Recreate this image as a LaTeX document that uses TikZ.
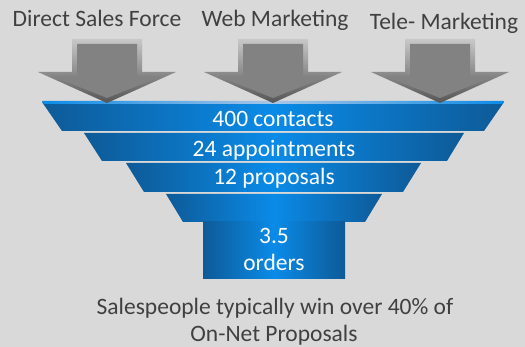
\documentclass[tikz,border=0pt]{standalone}
\usepackage{fontspec}
\setmainfont{Carlito}
\definecolor{bgGray}{HTML}{D9D9D9}
\definecolor{txtGray}{HTML}{404040}
\definecolor{funDark}{HTML}{0E5A97}
\definecolor{funLight}{HTML}{0A8BE8}
\definecolor{funShine}{HTML}{A9C6E6}
\definecolor{arrLight}{HTML}{C8C8C8}
\definecolor{arrDark}{HTML}{555555}
\definecolor{arrFace}{HTML}{828282}
\begin{document}
\begin{tikzpicture}[x=1pt,y=-1pt,
  label/.style={font=\fontsize{23.5}{27}\selectfont,text=txtGray,anchor=base,inner sep=0pt},
  stage/.style={font=\fontsize{23.5}{27}\selectfont,text=white,anchor=base,inner sep=0pt},
  layer/.style={left color=funDark,right color=funDark,middle color=funLight},
  gray arrow/.pic={
    \shade[top color=arrLight,bottom color=arrDark] (-35,0) -- (35,0) -- (35,33) -- (69,33) -- (0,64) -- (-69,33) -- (-35,33) -- cycle;
    \fill[arrFace] (-30,5) -- (30,5) -- (30,37) -- (55,37) -- (0,59) -- (-55,37) -- (-30,37) -- cycle;
  }]
\useasboundingbox (0,0) rectangle (525,347);
\fill[bgGray] (0,0) rectangle (525,347);
\shade[layer] (42,102) -- (504,102) -- (484,131) -- (62,131) -- cycle;
\shade[left color=funLight,right color=funLight,middle color=funShine] (42,101) -- (504,101) -- (502,104) -- (44,104) -- cycle;
\shade[layer] (84,133) -- (464,133) -- (447,161) -- (102,161) -- cycle;
\shade[layer] (126,163) -- (421,163) -- (403,192) -- (144,192) -- cycle;
\shade[layer] (166,194) -- (382,194) -- (365,222) -- (183,222) -- cycle;
\shade[layer] (203,222) rectangle (345,279);
\pic at (107,39) {gray arrow};
\pic at (273,39) {gray arrow};
\pic at (440,39) {gray arrow};
\node[label] (direct) at (97,27) {Direct Sales Force};
\node[label] (web) at (275,27) {Web Marketing};
\node[label] (tele) at (444,30) {Tele- Marketing};
\node[stage] (contacts) at (273,127) {400 contacts};
\node[stage] (appoint) at (274,157) {24 appointments};
\node[stage] (proposals) at (274,185) {12 proposals};
\node[stage] (orders1) at (274,244) {3.5};
\node[stage] (orders2) at (274,271) {orders};
\node[label] (note1) at (275,315) {Salespeople typically win over 40\% of};
\node[label] (note2) at (274,342) {On-Net Proposals};
\end{tikzpicture}
\end{document}
